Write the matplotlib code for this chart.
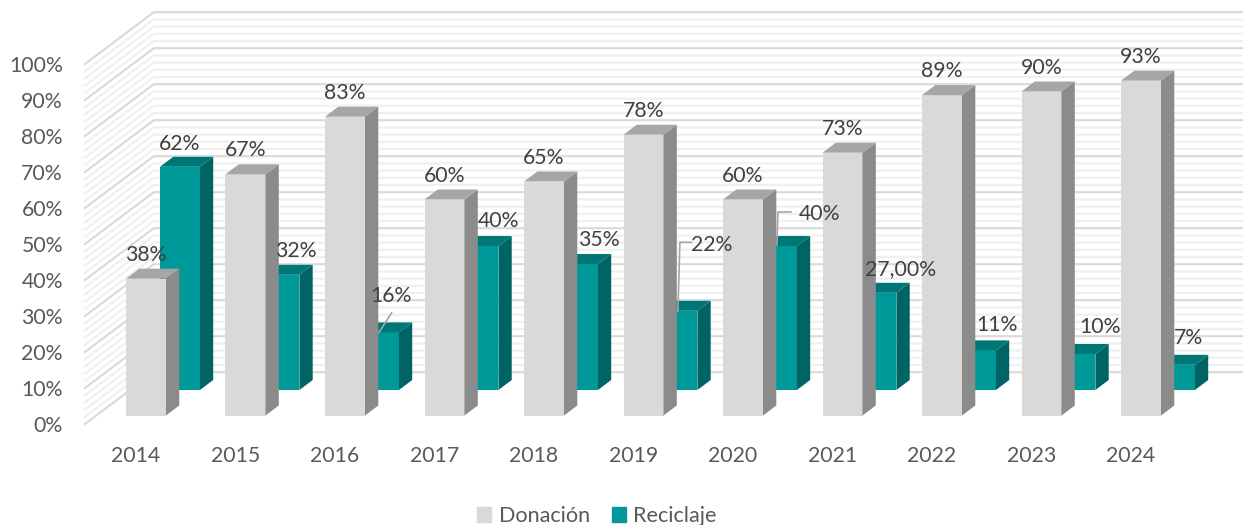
"""
Donación / Reciclaje por año: columnas con efecto 3D
"""

import matplotlib
matplotlib.use("Agg")
import matplotlib.pyplot as plt
from matplotlib.patches import Patch, Polygon

#   data
years = ["2014", "2015", "2016", "2017", "2018", "2019", "2020", "2021", "2022", "2023", "2024"]
donacion = [38, 67, 83, 60, 65, 78, 60, 73, 89, 90, 93]
reciclaje = [62, 32, 16, 40, 35, 22, 40, 27, 11, 10, 7]
reciclaje_labels = ["62%", "32%", "16%", "40%", "35%", "22%", "40%", "27,00%", "11%", "10%", "7%"]
y_ticks = [0, 10, 20, 30, 40, 50, 60, 70, 80, 90, 100]

#   scale: pixels per category / per percent, and where 0% of the first bar sits
PX_X, PX_Y = 99.5, 3.6
X0, Y0 = 146, 415.5
SKEW = 1.33     # px sideways for each px of depth
BAR_W = 40 / PX_X

#   depth planes, in px
D_FRONT, D_BACK = -8.5, 43.3
D_DON, D_REC, D_BAR = 0, 25.5, 10

FS = 15.3
TEXT_AXIS = "#595959"
TEXT_LABEL = "#404040"
DON_COLS = ("#D9D9D9", "#8B8B8B", "#A6A6A6")
REC_COLS = ("#009999", "#006464", "#007777")


def project(x, v, d):
    """category, percent and depth to the axes' data coordinates"""
    return x + d * SKEW / PX_X, v + d / PX_Y


def draw_bars(values, d, cols):
    xs = [project(i, 0, d)[0] for i in range(len(values))]
    ax.bar(xs, values, BAR_W, bottom=project(0, 0, d)[1], color=cols[0], zorder=3)
    for i, v in enumerate(values):
        left, right = i - BAR_W / 2, i + BAR_W / 2
        side = [project(right, 0, d), project(right, 0, d + D_BAR),
                project(right, v, d + D_BAR), project(right, v, d)]
        top = [project(left, v, d), project(left, v, d + D_BAR),
               project(right, v, d + D_BAR), project(right, v, d)]
        ax.add_patch(Polygon(side, color=cols[1], lw=0, zorder=3))
        ax.add_patch(Polygon(top, color=cols[2], lw=0, zorder=3))


plt.rcParams["font.family"] = ["Lato", "DejaVu Sans"]
fig = plt.figure(figsize=(12.43, 5.25), dpi=100)
ax = fig.add_axes([0, 0, 1, 1])
ax.set_xlim(-X0 / PX_X, (1243 - X0) / PX_X)
ax.set_ylim((Y0 - 525) / PX_Y, Y0 / PX_Y)
ax.axis("off")

#   walls: light lines every 2%, stronger every 10%
for v in range(0, 101, 2):
    major = v % 10 == 0
    col = "#D9D9D9" if major else "#F0F0F0"
    lw = 1.5 if major else 1.6
    z = 2 if major else 1
    p0 = project(-0.5, v, D_FRONT)
    p1 = project(-0.5, v, D_BACK)
    p2 = project(12, v, D_BACK)
    ax.plot([p0[0], p1[0], p2[0]], [p0[1], p1[1], p2[1]], color=col, lw=lw, zorder=z)

#   back row first, the front row covers it
draw_bars(reciclaje, D_REC, REC_COLS)
draw_bars(donacion, D_DON, DON_COLS)

#   axis labels
for v in y_ticks:
    ax.annotate(f"{v}%", project(-0.5, v, D_FRONT), xytext=(-22, -1.5), textcoords="offset pixels",
                ha="right", va="center", fontsize=FS, color=TEXT_AXIS)
for i, yr in enumerate(years):
    ax.annotate(yr, project(i, 0, D_DON), xytext=(-10, -40.5), textcoords="offset pixels",
                ha="center", va="center", fontsize=FS, color=TEXT_AXIS)

#   data labels, hand placed in the original chart
for i, v in enumerate(donacion):
    ax.annotate(f"{v}%", project(i, v, D_DON), xytext=(0, 24), textcoords="offset pixels",
                ha="center", va="center", fontsize=FS, color=TEXT_LABEL, zorder=5)

rec_off = [(0, 23), (16.5, 24), (12, 36), (20, 25), (21, 24), (34, 66),
           (43, 32), (24, 24), (21, 25), (24.5, 27), (14, 27)]
for i, v in enumerate(reciclaje):
    ax.annotate(reciclaje_labels[i], project(i, v, D_REC), xytext=rec_off[i],
                textcoords="offset pixels", ha="center", va="center",
                fontsize=FS, color=TEXT_LABEL, zorder=5)


#   leader lines, given relative to the top of the bar
def leader(i, pts):
    bx, by = project(i, reciclaje[i], D_REC)
    xs = [bx + p[0] / PX_X for p in pts]
    ys = [by + p[1] / PX_Y for p in pts]
    ax.plot(xs, ys, color="#A6A6A6", lw=1.2, zorder=4)


leader(2, [(0, 0), (12.7, 19.5)])
leader(5, [(0.5, 0), (2.5, 68.5), (14, 68.5)])
leader(6, [(0, 1), (1, 34), (14, 34)])

#   legend
handles = [Patch(color=DON_COLS[0], label="Donación"), Patch(color=REC_COLS[0], label="Reciclaje")]
fig.legend(handles=handles, ncol=2, loc="center", bbox_to_anchor=(597 / 1243, 1 - 516 / 525),
           frameon=False, fontsize=15.6, labelcolor=TEXT_AXIS, handlelength=0.65, handleheight=0.65,
           handletextpad=0.35, columnspacing=1.0, borderpad=0)

fig.savefig("out.png", dpi=100)
